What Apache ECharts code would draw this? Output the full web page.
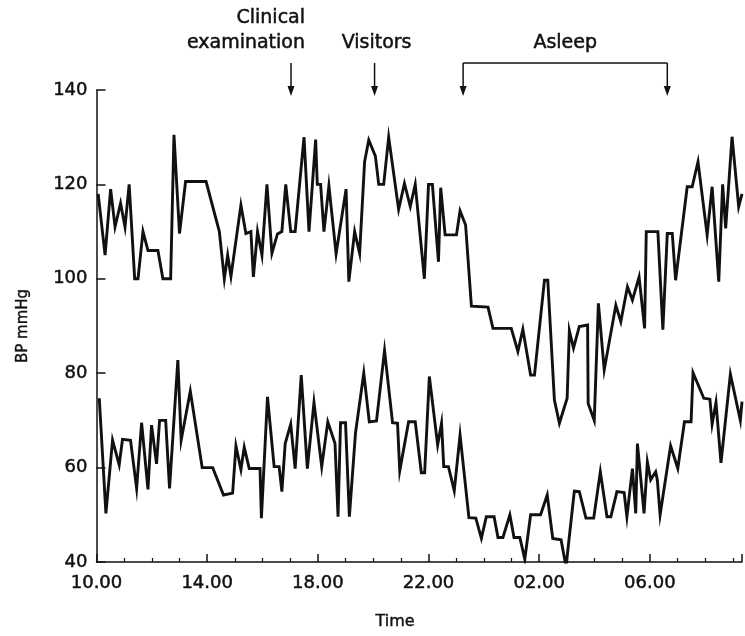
<!DOCTYPE html>
<html>
<head>
<meta charset="utf-8">
<script src="https://cdn.jsdelivr.net/npm/echarts@6/dist/echarts.min.js"></script>
<style>
  html, body { margin: 0; padding: 0; background: #fff; }
  #chart { width: 745px; height: 636px; }
</style>
</head>
<body>
<div id="chart"></div>
<script>
// times are clock hours, continuing past 24 for the night (25 = 01.00)
var startHour = 10;
var endHour = 33.33;

var systolicTimes = [10.06,10.31,10.51,10.67,10.87,11.03,11.18,11.38,11.50,11.68,11.86,12.22,12.40,12.68,12.80,13.00,13.22,13.96,14.44,14.62,14.74,14.86,15.22,15.40,15.58,15.67,15.82,15.98,16.16,16.34,16.54,16.70,16.84,17.02,17.18,17.50,17.68,17.92,17.98,18.10,18.22,18.40,18.66,19.02,19.12,19.33,19.51,19.69,19.84,20.08,20.20,20.38,20.56,20.92,21.13,21.34,21.52,21.85,22.00,22.14,22.36,22.44,22.60,23.01,23.14,23.34,23.55,24.15,24.33,24.99,25.23,25.41,25.69,25.83,26.19,26.31,26.55,26.73,27.01,27.09,27.24,27.45,27.75,27.77,27.99,28.14,28.35,28.77,28.95,29.19,29.37,29.61,29.81,29.87,30.29,30.47,30.63,30.81,30.93,31.35,31.53,31.74,32.07,32.25,32.49,32.63,32.74,32.97,33.21,33.33];
var systolicValues = [118,105,119,111,116,111,120,100,100,110,106,106,100,100,130.5,109.6,120.6,120.6,110,100,105,100.5,115.6,109.6,110,100.4,110,105,120,105.4,109.5,110,120,110,110,130,110,129.5,120,120,110,119.7,105.3,119,99.4,110,105.4,124.8,129.4,126,120,120,130,114.7,120.2,115.3,120,100,120,120,103.6,119.3,109.3,109.3,114.4,111.4,94.2,94,89.5,89.5,84.6,89.3,79.6,79.6,99.7,99.7,74.3,69.4,74.7,89,85.3,89.9,90.2,73.6,70,94.8,80.7,94.4,90.9,98.3,95.5,100.4,89.5,110,110,89.2,109.6,109.6,99.7,119.5,119.5,124.8,109.3,119.5,99.4,120,110.7,130.1,115.3,118];

var diastolicTimes = [10.10,10.34,10.58,10.82,10.94,11.23,11.45,11.63,11.86,11.99,12.17,12.28,12.50,12.64,12.94,13.06,13.39,13.82,14.20,14.59,14.92,15.04,15.22,15.34,15.52,15.91,15.96,16.18,16.42,16.60,16.70,16.82,17.02,17.18,17.40,17.62,17.86,18.14,18.36,18.62,18.73,18.82,19.00,19.14,19.36,19.66,19.86,20.12,20.41,20.70,20.88,20.96,21.28,21.52,21.74,21.86,22.03,22.33,22.47,22.55,22.72,22.93,23.14,23.46,23.71,23.91,24.09,24.37,24.51,24.69,24.94,25.09,25.30,25.48,25.69,26.05,26.29,26.49,26.79,26.97,27.27,27.45,27.69,27.97,28.21,28.45,28.59,28.81,29.07,29.17,29.37,29.49,29.55,29.79,29.91,30.03,30.21,30.27,30.37,30.75,31.01,31.25,31.49,31.56,31.95,32.17,32.25,32.39,32.57,32.91,33.27,33.33];
var diastolicValues = [74.7,50.3,65.8,60.6,66,65.8,55.6,69.5,55.4,69,60.8,70,70,55.6,82.8,65.8,76.2,60,60,54.2,54.6,64.6,59.6,64.3,59.8,59.8,49.3,75,60.2,60.2,54.9,65.1,69.2,59.8,79.6,59.8,73.8,60.2,69.7,65.1,49.6,69.5,69.5,49.6,67.3,80,69.7,69.9,84.8,69.5,69.4,59.3,69.7,69.7,58.9,58.9,79.3,64.8,69.4,60.2,60.2,55.1,66.9,49.4,49.3,45,49.6,49.6,45.2,45.2,50,45.2,45.2,40.6,50,50,54.2,45,44.7,39,55,54.9,49.3,49.3,59.1,49.6,49.6,54.9,54.7,49.6,59.8,50.3,65.1,50.3,61.2,57.4,59.1,57.4,50,64.6,59.8,69.7,69.7,80.1,74.7,74.5,69.2,73.8,61,79.8,70,74];

// event markers (clock hours)
var clinicalHour = 17.03;
var visitorsHour = 20.05;
var asleepFrom = 23.25;
var asleepTo = 30.63;

function pairs(times, values) {
    var out = [];
    for (var i = 0; i < times.length; i++) {
        out.push([times[i] - startHour, values[i]]);
    }
    return out;
}

function hourLabel(v) {
    if (Math.abs(v - Math.round(v)) > 0.001) return '';
    var h = (Math.round(v) + startHour) % 24;
    return (h < 10 ? '0' + h : '' + h) + '.00';
}

var font = 'DejaVu Sans';
var ink = '#111';

var chart = echarts.init(document.getElementById('chart'));
chart.setOption({
    animation: false,
    grid: { left: 96.5, right: 0, top: 90, bottom: 74 },
    xAxis: {
        type: 'value',
        min: 0,
        max: endHour - startHour,
        interval: 4,
        axisLine: { lineStyle: { color: ink, width: 1.5 } },
        axisTick: { inside: true, length: 8, lineStyle: { color: ink, width: 1.5 } },
        minorTick: { show: true, splitNumber: 4, length: 4, lineStyle: { color: ink, width: 1.2 } },
        splitLine: { show: false },
        axisLabel: { formatter: hourLabel, color: ink, fontFamily: font, fontSize: 18, margin: 12,
                     textBorderColor: ink, textBorderWidth: 0.5 }
    },
    yAxis: {
        type: 'value',
        min: 40,
        max: 140,
        interval: 20,
        name: 'BP mmHg',
        nameLocation: 'middle',
        nameGap: 66,
        nameTextStyle: { color: ink, fontFamily: font, fontSize: 15, textBorderColor: ink, textBorderWidth: 0.4 },
        axisLine: { show: true, lineStyle: { color: ink, width: 1.5 } },
        axisTick: { inside: true, length: 9, lineStyle: { color: ink, width: 1.5 } },
        splitLine: { show: false },
        axisLabel: { color: ink, fontFamily: font, fontSize: 18, margin: 9,
                     textBorderColor: ink, textBorderWidth: 0.5 }
    },
    series: [
        {
            type: 'line',
            data: pairs(systolicTimes, systolicValues),
            symbol: 'none',
            lineStyle: { color: ink, width: 2.9, join: 'miter' }
        },
        {
            type: 'line',
            data: pairs(diastolicTimes, diastolicValues),
            symbol: 'none',
            lineStyle: { color: ink, width: 2.9, join: 'miter' }
        }
    ]
});

// annotations above the plot
function px(hour) {
    return chart.convertToPixel({ xAxisIndex: 0 }, hour - startHour);
}
function arrow(x, y0, y1) {
    return [
        { type: 'line', shape: { x1: x, y1: y0, x2: x, y2: y1 - 6 }, style: { stroke: ink, lineWidth: 1.5 } },
        { type: 'polygon', shape: { points: [[x - 3.5, y1 - 10], [x + 3.5, y1 - 10], [x, y1]] }, style: { fill: ink } }
    ];
}
var xc = px(clinicalHour), xv = px(visitorsHour), xa = px(asleepFrom), xb = px(asleepTo);
var textStyle = { fill: ink, fontFamily: font, fontSize: 19, stroke: ink, lineWidth: 0.5 };
var elements = [];
elements = elements.concat(arrow(xc, 63, 96), arrow(xv, 63, 96), arrow(xa, 63, 96), arrow(xb, 63, 96));
elements.push({ type: 'line', shape: { x1: xa, y1: 63, x2: xb, y2: 63 }, style: { stroke: ink, lineWidth: 1.5 } });
elements.push({ type: 'text', x: xc + 14, y: 18, style: Object.assign({ text: 'Clinical', align: 'right', verticalAlign: 'middle' }, textStyle) });
elements.push({ type: 'text', x: xc + 14, y: 43, style: Object.assign({ text: 'examination', align: 'right', verticalAlign: 'middle' }, textStyle) });
elements.push({ type: 'text', x: xv + 2, y: 43, style: Object.assign({ text: 'Visitors', align: 'center', verticalAlign: 'middle' }, textStyle) });
elements.push({ type: 'text', x: (xa + xb) / 2, y: 43, style: Object.assign({ text: 'Asleep', align: 'center', verticalAlign: 'middle' }, textStyle) });
elements.push({ type: 'text', x: 395, y: 622, style: Object.assign({ text: 'Time', align: 'center', verticalAlign: 'middle' }, textStyle, { fontSize: 16, lineWidth: 0.4 }) });
chart.setOption({ graphic: { elements: elements } });
</script>
</body>
</html>
